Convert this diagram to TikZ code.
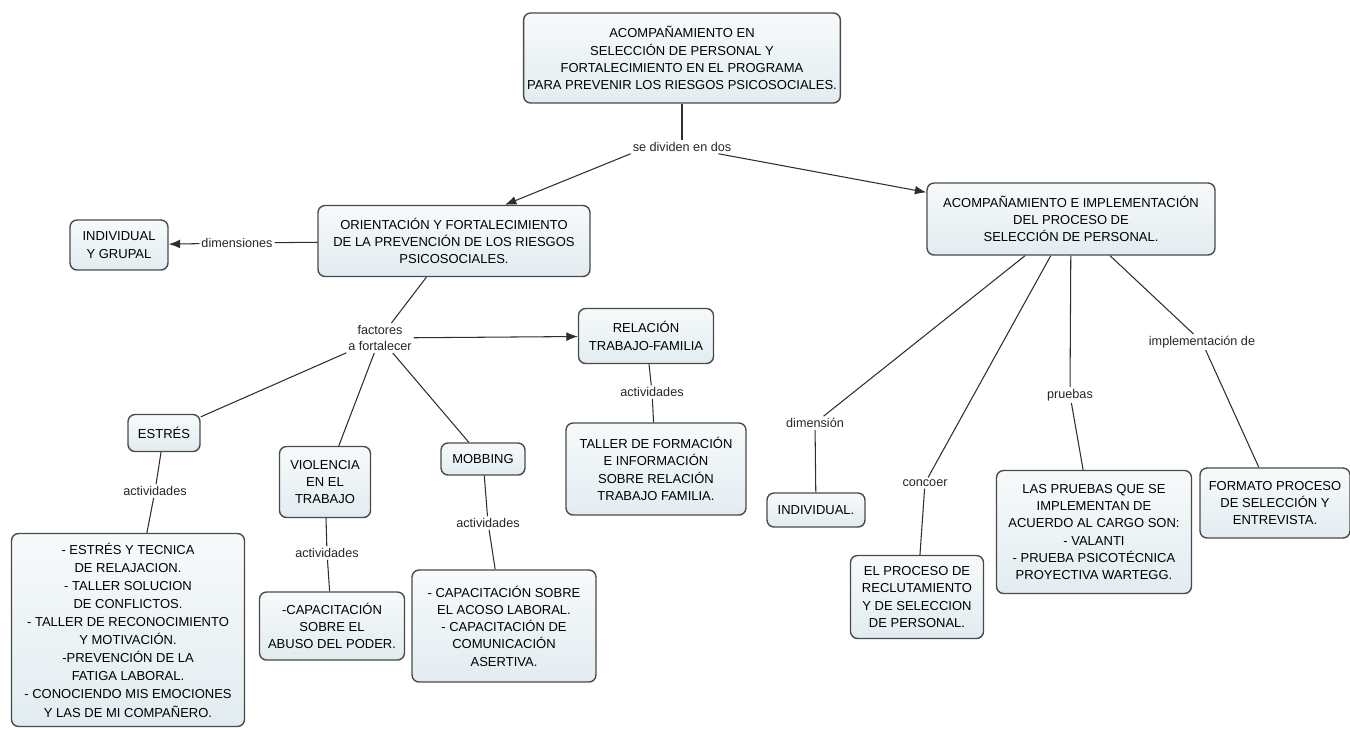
\documentclass[tikz,border=0pt]{standalone}
\usepackage{fontspec}
\setmainfont{Liberation Sans}
\usepackage{tikz}
\usetikzlibrary{arrows.meta,calc}
\definecolor{cedge}{HTML}{4A4A4A}
\definecolor{ctop}{HTML}{F7FAFB}
\definecolor{cbot}{HTML}{E2ECF0}
\definecolor{cline}{HTML}{2E2E2E}
\newcommand{\mapfont}{\fontsize{7.4}{9.8}\selectfont}
\newcommand{\linkfont}{\fontsize{7.2}{9.4}\selectfont}
\tikzset{
  concept/.style={draw=cedge,top color=ctop,bottom color=cbot,rounded corners=4pt,line width=0.8pt,align=center,font=\mapfont,inner sep=2pt},
  link/.style={align=center,font=\linkfont,inner sep=1pt,text=black!85},
  con/.style={draw=cline,line width=0.6pt},
  arr/.style={-{Latex[length=6.5pt,width=5pt]},draw=cline,line width=0.6pt},
}

\begin{document}
\begin{tikzpicture}[x=0.02cm,y=-0.02cm]
  \useasboundingbox (0,0) rectangle (1350,728);
  % raiz
  \node[concept,minimum width=6.1cm,minimum height=1.8cm] (raiz) at (682,58) {ACOMPAÑAMIENTO EN\\SELECCIÓN DE PERSONAL Y\\FORTALECIMIENTO EN EL PROGRAMA\\PARA PREVENIR LOS RIESGOS PSICOSOCIALES.};
  \node[link] (divide) at (682,147) {se dividen en dos};
  \node[concept,minimum width=5.44cm,minimum height=1.42cm] (orient) at (454,241) {ORIENTACIÓN Y FORTALECIMIENTO\\DE LA PREVENCIÓN DE LOS RIESGOS\\PSICOSOCIALES.};
  \node[concept,minimum width=5.76cm,minimum height=1.44cm] (acomp) at (1071,219) {ACOMPAÑAMIENTO E IMPLEMENTACIÓN\\DEL PROCESO DE\\SELECCIÓN DE PERSONAL.};
  \draw[con] (raiz) -- (divide);
  \draw[arr] (divide.south west) -- ($(orient.north)+(51,0)$);
  \draw[arr] (divide) -- (acomp);
  % orientacion
  \node[concept,minimum width=1.96cm,minimum height=1.0cm] (grupal) at (119,245) {INDIVIDUAL\\Y GRUPAL};
  \node[link] (dimensiones) at (237,243) {dimensiones};
  \draw[con] (orient) -- (dimensiones); \draw[arr] (dimensiones) -- (grupal);
  \node[link] (factores) at (380,338) {factores\\a fortalecer};
  \node[concept,minimum width=2.7cm,minimum height=1.1cm] (relacion) at (646,336) {RELACIÓN\\TRABAJO-FAMILIA};
  \draw[con] (orient) -- (factores); \draw[arr] (factores) -- (relacion);
  \node[link] (actRelacion) at (652,392) {actividades};
  \node[concept,minimum width=3.6cm,minimum height=1.84cm] (formacion) at (656,469) {TALLER DE FORMACIÓN\\E INFORMACIÓN\\SOBRE RELACIÓN\\TRABAJO FAMILIA.};
  \draw[con] (relacion) -- (actRelacion) (actRelacion) -- (formacion);
  % estres
  \node[concept,minimum width=1.44cm,minimum height=0.74cm] (estres) at (164,433) {ESTRÉS};
  \node[link] (actEstres) at (155,491) {actividades};
  \node[concept,minimum width=4.66cm,minimum height=3.86cm,font=\fontsize{7.4}{10.3}\selectfont] (tallerEstres) at (128,630) {- ESTRÉS Y TECNICA\\DE RELAJACION.\\- TALLER SOLUCION\\DE CONFLICTOS.\\- TALLER DE RECONOCIMIENTO\\Y MOTIVACIÓN.\\-PREVENCIÓN DE LA\\FATIGA LABORAL.\\- CONOCIENDO MIS EMOCIONES\\Y LAS DE MI COMPAÑERO.};
  \draw[con] (factores) -- (estres) (estres) -- (actEstres) (actEstres) -- (tallerEstres);
  % violencia
  \node[concept,minimum width=1.82cm,minimum height=1.42cm] (violencia) at (325,482) {VIOLENCIA\\EN EL\\TRABAJO};
  \node[link] (actViolencia) at (327,553) {actividades};
  \node[concept,minimum width=2.9cm,minimum height=1.36cm] (abuso) at (332,626) {-CAPACITACIÓN\\SOBRE EL\\ABUSO DEL PODER.};
  \draw[con] (factores) -- (violencia) (violencia) -- (actViolencia) (actViolencia) -- (abuso);
  % mobbing
  \node[concept,minimum width=1.68cm,minimum height=0.64cm] (mobbing) at (483,459) {MOBBING};
  \node[link] (actMobbing) at (488,523) {actividades};
  \node[concept,minimum width=3.68cm,minimum height=2.24cm] (acoso) at (504,626) {- CAPACITACIÓN SOBRE\\EL ACOSO LABORAL.\\- CAPACITACIÓN DE\\COMUNICACIÓN\\ASERTIVA.};
  \draw[con] (factores) -- (mobbing) (mobbing) -- (actMobbing) (actMobbing) -- (acoso);
  % acompanamiento
  \node[link] (dimension) at (815,423) {dimensión};
  \node[concept,minimum width=1.96cm,minimum height=0.68cm] (individual) at (816,510) {INDIVIDUAL.};
  \node[link] (conocer) at (925,483) {concoer};
  \node[concept,minimum width=2.66cm,minimum height=1.66cm] (proceso) at (917,597) {EL PROCESO DE\\RECLUTAMIENTO\\Y DE SELECCION\\DE PERSONAL.};
  \node[link] (pruebas) at (1070,395) {pruebas};
  \node[concept,minimum width=3.9cm,minimum height=2.46cm] (bateria) at (1094,532) {LAS PRUEBAS QUE SE\\IMPLEMENTAN DE\\ACUERDO AL CARGO SON:\\- VALANTI\\- PRUEBA PSICOTÉCNICA\\PROYECTIVA WARTEGG.};
  \node[link] (implementacion) at (1202,342) {implementación de};
  \node[concept,minimum width=3.0cm,minimum height=1.4cm] (formato) at (1275,503) {FORMATO PROCESO\\DE SELECCIÓN Y\\ENTREVISTA.};
  \draw[con] (acomp) -- (dimension) (dimension) -- (individual);
  \draw[con] (acomp) -- (conocer) (conocer) -- (proceso);
  \draw[con] (acomp) -- (pruebas) (pruebas) -- (bateria);
  \draw[con] (acomp) -- (implementacion) (implementacion) -- (formato);
\end{tikzpicture}
\end{document}
